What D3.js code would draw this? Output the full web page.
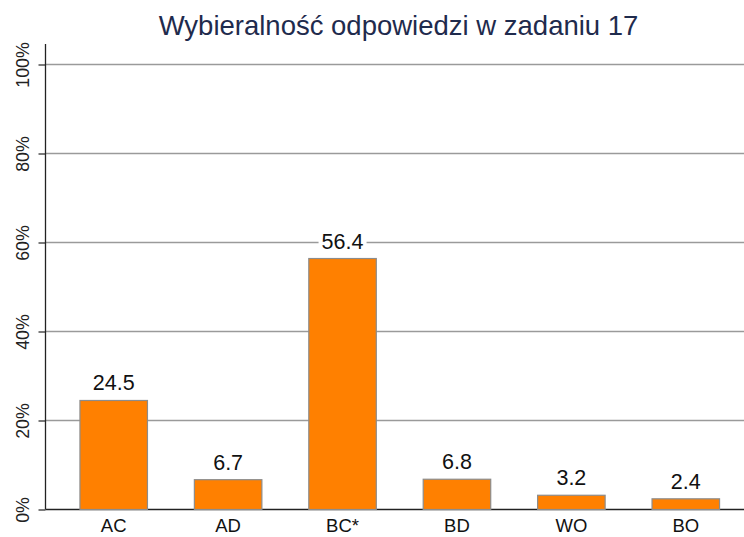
<!DOCTYPE html>
<html>
<head>
<meta charset="utf-8">
<script src="https://cdn.jsdelivr.net/npm/d3@7"></script>
<style>
  body { margin: 0; background: #fff; }
  text { font-family: "Liberation Sans", Arial, sans-serif; }
</style>
</head>
<body>
<script>
// answer options and share of students choosing each (%)
var categories = ["AC", "AD", "BC*", "BD", "WO", "BO"];
var values = [24.5, 6.7, 56.4, 6.8, 3.2, 2.4];
var yTicks = [0, 20, 40, 60, 80, 100];
var title = "Wybieralność odpowiedzi w zadaniu 17";

var totalWidth = 744;
var totalHeight = 537;

var svg = d3.select("body").append("svg")
    .attr("width", totalWidth)
    .attr("height", totalHeight);

// y scale: 0% at bottom of plot, 100% near top
var yScale = d3.scaleLinear()
    .domain([0, 100])
    .range([509.5, 64.5]);

var xScale = d3.scaleBand()
    .domain(categories)
    .range([56.5, 743])
    .paddingInner(0.41)
    .paddingOuter(0.205);

var axisX = 45.5;

// title
svg.append("text")
    .attr("x", 398.5)
    .attr("y", 34.5)
    .attr("text-anchor", "middle")
    .style("font-size", "27.5px")
    .style("fill", "#1f2b4d")
    .text(title);

// gridlines
svg.selectAll(".grid")
    .data(yTicks.slice(1))
    .enter()
    .append("line")
    .attr("x1", axisX)
    .attr("x2", totalWidth)
    .attr("y1", function(d) { return yScale(d); })
    .attr("y2", function(d) { return yScale(d); })
    .style("stroke", "#9a9a9a")
    .style("stroke-width", 1.3);

// y axis
var yAxis = svg.append("g")
    .attr("transform", "translate(" + axisX + ",0)")
    .call(d3.axisLeft(yScale)
        .tickValues(yTicks)
        .tickSize(7)
        .tickFormat(function(d) { return d + "%"; }));

yAxis.select(".domain").remove();
yAxis.selectAll(".tick line").style("stroke", "#222").style("stroke-width", 1.2);
yAxis.selectAll(".tick text")
    .attr("x", 0)
    .attr("y", 0)
    .attr("dy", null)
    .attr("transform", "translate(-16.5,0) rotate(-90)")
    .attr("text-anchor", "middle")
    .style("font-size", "17.8px")
    .style("font-family", "Liberation Sans, Arial, sans-serif")
    .style("fill", "#222");

svg.append("line")
    .attr("x1", axisX).attr("x2", axisX)
    .attr("y1", 44).attr("y2", yScale(0))
    .style("stroke", "#222").style("stroke-width", 1.3);

// x axis line
svg.append("line")
    .attr("x1", axisX).attr("x2", totalWidth)
    .attr("y1", yScale(0)).attr("y2", yScale(0))
    .style("stroke", "#222").style("stroke-width", 1.3);

// bars
svg.selectAll(".bar")
    .data(values)
    .enter()
    .append("rect")
    .attr("class", "bar")
    .attr("x", function(d, i) { return xScale(categories[i]); })
    .attr("y", function(d) { return yScale(d); })
    .attr("width", xScale.bandwidth())
    .attr("height", function(d) { return yScale(0) - yScale(d); })
    .style("fill", "#ff8000")
    .style("stroke", "#8c8c8c")
    .style("stroke-width", 1.2);

// value labels with white box so gridlines break behind them
var labels = svg.selectAll(".label")
    .data(values)
    .enter()
    .append("g")
    .attr("transform", function(d, i) {
        return "translate(" + (xScale(categories[i]) + xScale.bandwidth() / 2) + "," + (yScale(d) - 10) + ")";
    });

labels.append("rect")
    .attr("x", -24)
    .attr("y", -18)
    .attr("width", 48)
    .attr("height", 21)
    .style("fill", "#fff");

labels.append("text")
    .attr("text-anchor", "middle")
    .style("font-size", "21.5px")
    .style("fill", "#111")
    .text(function(d) { return d.toFixed(1); });

// category labels
svg.selectAll(".cat")
    .data(categories)
    .enter()
    .append("text")
    .attr("x", function(d) { return xScale(d) + xScale.bandwidth() / 2; })
    .attr("y", 532)
    .attr("text-anchor", "middle")
    .style("font-size", "18.5px")
    .style("fill", "#111")
    .text(function(d) { return d; });
</script>
</body>
</html>
